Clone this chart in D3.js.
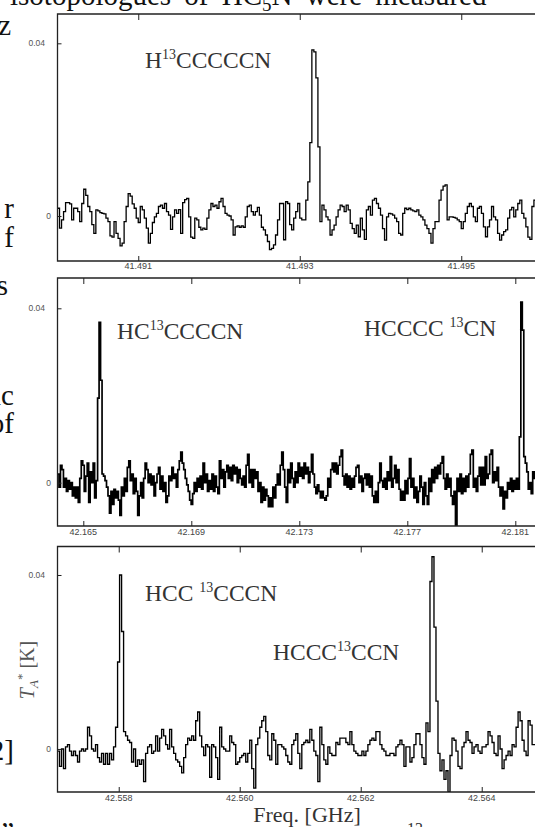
<!DOCTYPE html>
<html>
<head>
<meta charset="utf-8">
<script src="https://cdn.jsdelivr.net/npm/d3@7"></script>
<style>
body { margin: 0; background: #fff; }
svg { display: block; }
</style>
</head>
<body>
<div id="content"></div>
<script>
// tick values (GHz) for each panel
let ticks1 = [41.491, 41.493, 41.495];
let ticks2 = [42.165, 42.169, 42.173, 42.177, 42.181];
let ticks3 = [42.558, 42.560, 42.562, 42.564];
let yTicks = [0, 0.04];

// first channel (GHz) and channel width (GHz)
let chan1 = [41.4900, 0.000025];
let chan2 = [42.164044, 0.000055];
let chan3 = [42.556988, 0.0000331];

// antenna temperature per channel, in mK
let spec1 = [1.8,-2.8,-0.9,1,3.1,3.1,2.8,-0.9,1.8,1.8,
  1,-1.3,2.9,6.2,4.8,2.2,1,-2,-4,1.4,
  1.2,0.8,0.6,0.5,-0.5,-1.3,-4.6,-4.9,-1.3,-4,
  -5.2,-6.9,-6.3,-1.3,2.2,5.2,4.6,2.8,1.8,-0.5,
  -1.5,2.2,1.4,-0.5,-2.8,-6.3,-4,-1.5,-0.2,0.6,
  2.2,2.5,1.8,2.9,1,0.2,-3.1,-0.2,1.4,0.6,
  1.5,-4,3.1,3.8,4.1,-0.2,-4.9,-5.2,-0.5,-0.9,
  -2.6,-3.2,-2.8,-3.1,-0.5,1.4,2.9,2.2,2.5,1.8,
  3.3,4.1,2.2,0.6,0.2,0,-0.9,-4.4,-2.5,-2.3,
  -2.6,-2.3,-2.6,-0.2,2.2,2.5,1,0.2,1,2,
  0.2,-2.6,-3.2,-4.4,-5.9,-7.8,-7.5,-6.7,-4.4,-0.9,
  2.9,2.9,-5.5,3.3,2.9,-2,-3.2,-0.5,1,2.9,
  -0.5,-0.9,-0.9,3.7,7.9,17,38.5,38,32,16,
  -1.3,2.5,1.4,-0.2,-0.9,-4.4,-3.2,-2.1,-0.2,1.4,
  2.5,2.2,1,2.5,1.4,-1.7,-2.9,-4,-2.1,-4.8,
  -0.5,-3.2,-5.4,1.4,2.2,0.2,3.7,4.1,2.9,1.8,
  0.2,-2.9,-5.6,-0.2,0.6,0.5,0.2,-0.5,-1.3,-4,
  -4.4,0.6,1.8,1.5,1.8,1.4,1.2,1,1.4,0.2,
  -0.2,-0.9,-2.1,-2.9,-4,-6.3,-2.9,-1.3,-1.3,3.7,
  6,6.9,7.2,-0.9,-0.2,-0.2,-0.3,-0.5,-0.9,-1.3,
  -2.9,-1.3,0.6,2.2,2.9,2.2,-0.2,-1.3,1.8,2.2,
  0.6,-2.5,-4.8,-2.5,-0.9,2.2,-0.2,-0.9,-4,-5.6,
  -4.4,-3.6,-3.2,-0.5,1.4,2,-0.2,1.4,2.9,3.7,
  0.6,-0.5,-2.5,-4.9,-5.4,2.2,3.7];

let spec2 = [2,-1,4,3,-1,1,-2,0.5,-1.5,0,
  -3,-1,-3.5,-1,-4.5,1,5,4,-2,1.5,
  4.5,-4.5,2.5,0,4.5,-3.5,0.5,19.4,36.8,23.5,
  2,1.5,0.5,-1,-3,-7,-2,-5,-1.5,-3.5,
  -2,-4,-7.5,-1,-3,1,-2,3.5,5,0.5,
  2,-2.5,1,-2,-7.5,-3,0,-3.5,1,4.5,
  3,0,2,-0.5,1.5,-3,0,2,3.5,-1.5,
  1.5,-2,0,-4.5,-3,1.5,0.5,3.5,1,2,
  -1,3,5,7,4.5,3,1,-0.5,-2,-4,
  -5,-2.5,0,-2,1,-1,1.5,-1.5,4.5,0,
  2,-2,0.5,-1.5,2,-2,1.5,-1,
  -2.5,5,1,3,-1,2.5,4,1,3.5,0.5,
  4,2,3.5,0,3,1,-0.5,1.5,-1,4,
  6.5,0,3,-1,3,1,2.5,-2,0,-4.5,
  -1,-4,-1.5,-3,-5.5,-3.5,-5.5,-1,-3.5,-0.5,
  2,-0.5,4,7,3,-1,-4.5,3,0,4.5,
  1,-1,2.5,0,4.5,1.5,3.5,1,4.5,2,
  3.5,0,2.5,6.5,2,-1,-2.5,-0.5,-2,-3.5,
  -2,-3.5,-4,-3,1,-1,3,4.5,2.5,4.5,
  2,4,6,7.5,1.5,-0.5,2,-1,1.5,-1.5,
  1,-1,1.5,3.5,4,0,1.5,-2,1,2,
  -0.5,2,-1,1.5,-3,-4.5,-2,
  -4.5,0,4.5,0.5,-1,1,-1.5,2.5,0.5,6,
  -1,1,4,0,3,-1.5,-4,-2,-4,0.5,
  -2.5,1,5.5,-1,1,-3.5,-1,-4.5,-2,1.5,
  -1,-5,0,-3,-5,1,-2,3,0,3.5,
  1,4,2,4.5,6,1,-1.5,2,-1,1,
  -3,-5,-2,-10,1,-2,2,-2.5,1,-2,
  1.5,-1,2,6.5,7.5,-1,1,-2,1.5,3.5,
  -0.5,3.5,-0.5,6,1,2,6.5,7.5,0,2.5,
  0.5,3.5,-1,-3,-1,-6,-2,-3.5,0,-1.5,
  1,-2,0.5,-1.5,1,-1.5,10.5,41.4,35,6,
  4.5,2.5,-1.5,0,-2.5,2.5,1];

let spec3 = [-0.5,-4,0,-4.5,0.5,1,-0.5,-1.5,-0.5,-1.5,
  -3,-0.5,0,-0.5,0,5,3,0,-0.5,1,
  -2,-3,-1,-3.5,-1,-3.5,-1,-2.5,0.5,5,
  20,40,27,4,3,2,1.5,-3,0,-4,
  -2.5,-3.5,-2.5,-7.5,-1,0.5,1,-1,-0.5,3,
  -0.5,2.5,4.5,3,1,0,4.5,0.5,-1,-2.5,
  -3,-4,-5.5,-2,1,2.5,2,3,2,6.5,
  8.5,3,0.5,-1.5,1,0.5,-6.5,1,0.5,-2,
  -7,5,0.5,0,-0.5,-0.5,3,1.5,1,-3.5,
  -3,-2,-1.5,-1,-3,-1,2,-4.5,-9,1,
  2.5,5,6.5,7.5,4,-1.5,-2.5,3.5,2,-3.5,
  1,1,0.5,0,-1.5,-3,-3.5,1,2,
  3.5,-1,-4.5,1,1.5,2,1.5,4.5,2,-0.5,
  -1.5,-7.5,5,1,-2.5,-3.5,0.5,-1,-1.5,-1.5,
  1.5,1,2.5,2.5,2.5,1.5,1,4,1,-0.5,
  -1,-1.5,-1.5,-0.5,-1.5,-0.5,1,2,2.5,2,
  4,4,1,0,-0.5,-1.5,-1.5,-1,-1,-1.5,
  0.5,1,2,1,-4,0.5,0.5,-3,-2,1,
  3.5,3.5,1,-2,-3.5,6,4,38.5,44.2,28,
  11,-1,-5,-2.5,-7,-5,-9.8,-1.5,2.5,2,
  -0.5,-4,-4.5,0.5,1.5,4,2,1.5,-1,0.5,
  1,-0.5,-1,0.5,0.5,1,4,3,1.5,-1,
  -1.5,3,0,-4.5,-2.5,-1.5,-0.5,-1.5,1,0.5,
  5,8.5,6.5,2,-0.5,-1.5,6.5,5.5,1,1];

// line labels: [text, "sup" or ""]
let label1a = [["H", ""], ["13", "sup"], ["CCCCCN", ""]];
let label2a = [["HC", ""], ["13", "sup"], ["CCCCN", ""]];
let label2b = [["HCCCC ", ""], ["13", "sup"], ["CN", ""]];
let label3a = [["HCC ", ""], ["13", "sup"], ["CCCN", ""]];
let label3b = [["HCCC", ""], ["13", "sup"], ["CCN", ""]];

// surrounding page text that the crop cuts through
let bodyLines = [
    {text: "isotopologues of HC", sub: "5", rest: "N were measured", x: 10, y: 5},
];
let edgeWords = [["z", 35], ["r", 218], ["f", 247], ["s", 295], ["ic", 405], ["of", 433], ["2]", 760], ["\u201D", 842]];

const serif = "'Liberation Serif', 'Times New Roman', serif";
const sans = "'Liberation Sans', Arial, sans-serif";
const W = 535, H = 827;
const plotLeft = 57.5, plotRight = 545;

let panels = [
    {spec: spec1, chan: chan1, ticks: ticks1, top: 14, bottom: 261, pxPerMHz: 80.75,
     yMin: -0.01042, yMax: 0.04679, tickLabelY: 269, lineW: 1.3,
     labels: [{parts: label1a, x: 145, y: 68}],
     y0lab: [51, 216], y4lab: [45, 43.5]},
    {spec: spec2, chan: chan2, ticks: ticks2, top: 278, bottom: 526, pxPerMHz: 27,
     yMin: -0.00993, yMax: 0.04695, tickLabelY: 535, lineW: 1.7,
     labels: [{parts: label2a, x: 117, y: 339}, {parts: label2b, x: 364, y: 336}],
     y0lab: [51, 483], y4lab: [45, 308.5]},
    {spec: spec3, chan: chan3, ticks: ticks3, top: 546.5, bottom: 792, pxPerMHz: 60.5,
     yMin: -0.00989, yMax: 0.04655, tickLabelY: 801, lineW: 1.35,
     labels: [{parts: label3a, x: 145, y: 601}, {parts: label3b, x: 273, y: 660}],
     y0lab: [51, 749], y4lab: [45, 575]}
];

let svg = d3.select("#content")
    .append("svg")
    .attr("width", W)
    .attr("height", H);

let defs = svg.append("defs");

panels.forEach(function(p, k)
{
    let x = d3.scaleLinear()
        .domain([p.chan[0], p.chan[0] + (plotRight - plotLeft) / (p.pxPerMHz * 1000)])
        .range([plotLeft, plotRight]);
    let y = d3.scaleLinear()
        .domain([p.yMin, p.yMax])
        .range([p.bottom, p.top]);

    defs.append("clipPath")
        .attr("id", "clip" + k)
        .append("rect")
        .attr("x", plotLeft)
        .attr("y", p.top)
        .attr("width", plotRight - plotLeft)
        .attr("height", p.bottom - p.top);

    let g = svg.append("g").attr("class", "panel");

    // the spectrum, drawn as steps
    let pts = p.spec.map(function(v, i) { return [p.chan[0] + i * p.chan[1], v / 1000]; });
    pts.push([p.chan[0] + p.spec.length * p.chan[1], p.spec[p.spec.length - 1] / 1000]);

    let line = d3.line()
        .x(function(d) { return x(d[0]); })
        .y(function(d) { return y(d[1]); })
        .curve(d3.curveStepAfter);

    g.append("path")
        .datum(pts)
        .attr("clip-path", "url(#clip" + k + ")")
        .attr("d", line)
        .attr("fill", "none")
        .attr("stroke", "#000")
        .attr("stroke-width", p.lineW)
        .attr("stroke-linejoin", "miter");

    // frame (right side runs off the page)
    g.append("path")
        .attr("d", "M" + plotRight + "," + p.top + "H" + plotLeft + "V" + p.bottom + "H" + plotRight)
        .attr("fill", "none")
        .attr("stroke", "#222")
        .attr("stroke-width", 1.3);

    // x ticks top and bottom, pointing inwards
    let xTop = d3.axisTop(x).tickValues(p.ticks).tickSize(-6).tickFormat("");
    g.append("g")
        .attr("transform", "translate(0," + p.top + ")")
        .call(xTop)
        .call(function(a) { a.select(".domain").remove(); })
        .selectAll("line").attr("stroke", "#222");

    let xBottom = d3.axisBottom(x).tickValues(p.ticks).tickSize(-5).tickFormat("");
    g.append("g")
        .attr("transform", "translate(0," + p.bottom + ")")
        .call(xBottom)
        .call(function(a) { a.select(".domain").remove(); })
        .selectAll("line").attr("stroke", "#222");

    g.selectAll("text.xlab")
        .data(p.ticks)
        .enter()
        .append("text")
        .attr("class", "xlab")
        .attr("x", function(d) { return x(d); })
        .attr("y", p.tickLabelY)
        .attr("text-anchor", "middle")
        .style("font-family", sans)
        .style("font-size", "9px")
        .style("fill", "#444")
        .text(d3.format(".3f"));

    // y ticks
    let yAxis = d3.axisRight(y).tickValues(yTicks).tickSize(4).tickFormat("");
    g.append("g")
        .attr("transform", "translate(" + plotLeft + ",0)")
        .call(yAxis)
        .call(function(a) { a.select(".domain").remove(); })
        .selectAll("line").attr("stroke", "#222");

    g.append("text")
        .attr("x", p.y4lab[0]).attr("y", p.y4lab[1]).attr("dy", "0.35em")
        .attr("text-anchor", "end")
        .style("font-family", sans).style("font-size", "8.5px").style("fill", "#555")
        .text(d3.format(".2f")(yTicks[1]));
    g.append("text")
        .attr("x", p.y0lab[0]).attr("y", p.y0lab[1]).attr("dy", "0.35em")
        .attr("text-anchor", "end")
        .style("font-family", sans).style("font-size", "8.5px").style("fill", "#555")
        .text(yTicks[0]);

    // species labels
    p.labels.forEach(function(l)
    {
        let t = g.append("text")
            .attr("x", l.x)
            .attr("y", l.y)
            .style("font-family", serif)
            .style("font-size", "23.5px")
            .style("fill", "#333")
            .style("white-space", "pre");
        let lifted = false;
        l.parts.forEach(function(part)
        {
            let s = t.append("tspan").text(part[0]);
            if (part[1] == "sup")
            {
                s.attr("dy", -9).style("font-size", "14px");
                lifted = true;
            }
            else if (lifted)
            {
                s.attr("dy", 9);
                lifted = false;
            }
        });
    });
});

// axis titles
let yTitle = svg.append("text")
    .attr("transform", "translate(34,670) rotate(-90)")
    .attr("text-anchor", "middle")
    .style("font-family", serif)
    .style("font-size", "20px")
    .style("fill", "#555")
    .style("white-space", "pre");
yTitle.append("tspan").style("font-style", "italic").text("T");
yTitle.append("tspan").style("font-style", "italic").style("font-size", "13px").attr("dy", 4).text("A");
yTitle.append("tspan").style("font-size", "13px").attr("dy", -12).text("*");
yTitle.append("tspan").attr("dy", 8).text(" [K]");

svg.append("text")
    .attr("x", 307)
    .attr("y", 822)
    .attr("text-anchor", "middle")
    .style("font-family", serif)
    .style("font-size", "22px")
    .style("fill", "#333")
    .text("Freq. [GHz]");

// page text around the figure
bodyLines.forEach(function(b)
{
    let t = svg.append("text")
        .attr("x", b.x)
        .attr("y", b.y)
        .style("font-family", serif)
        .style("font-size", "29px")
        .style("word-spacing", "6px")
        .style("fill", "#111");
    t.append("tspan").text(b.text);
    t.append("tspan").attr("dy", 6).style("font-size", "19px").text(b.sub);
    t.append("tspan").attr("dy", -6).text(b.rest);
});

edgeWords.forEach(function(w)
{
    svg.append("text")
        .attr("x", w[0] == "s" ? 8 : (w[0] == "z" ? 11 : 14))
        .attr("y", w[1])
        .attr("text-anchor", "end")
        .style("font-family", serif)
        .style("font-size", "29px")
        .style("fill", "#111")
        .text(w[0]);
});

svg.append("text")
    .attr("x", 407)
    .attr("y", 834)
    .style("font-family", serif)
    .style("font-size", "16px")
    .style("fill", "#333")
    .text("13");
</script>
</body>
</html>
